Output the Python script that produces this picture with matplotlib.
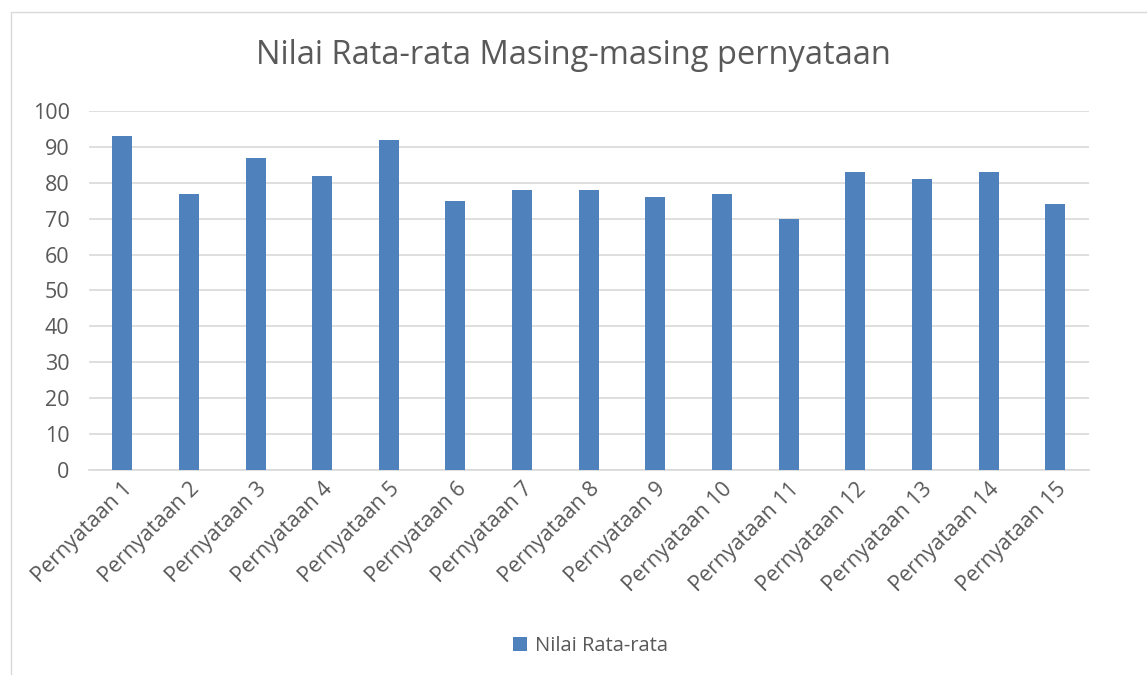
import matplotlib.pyplot as plt
import matplotlib.patches as mpatches
import numpy as np

plt.rcParams['font.family'] = ['Open Sans', 'DejaVu Sans']

kategori = ["Pernyataan %d" % i for i in range(1, 16)]
nilai = [93, 77, 87, 82, 92, 75, 78, 78, 76, 77, 70, 83, 81, 83, 74]
judul = "Nilai Rata-rata Masing-masing pernyataan"
nama_seri = "Nilai Rata-rata"

warna_bar = "#4f81bd"
warna_teks = "#595959"

fig = plt.figure(figsize=(11.47, 6.75), dpi=100)
ax = fig.add_axes([0.0776, 0.3037, 0.8714, 0.5319])

# bingkai chart
fig.patches.append(mpatches.Rectangle((11 / 1147, -0.01), 1.2, (675 - 12) / 675 + 0.01,
                                      transform=fig.transFigure, fill=False,
                                      edgecolor="#d9d9d9", linewidth=1))

x = np.arange(len(kategori))
ax.bar(x, nilai, width=0.3, color=warna_bar, zorder=3, label=nama_seri)

ax.set_xlim(-0.5, len(kategori) - 0.5)
ax.set_ylim(0, 100)
ax.set_yticks(range(0, 101, 10))
ax.grid(axis='y', color="#d9d9d9", linewidth=1.2, zorder=0)
ax.set_xticks(x)
ax.set_xticklabels(kategori, rotation=45, ha='right', rotation_mode='anchor')
ax.tick_params(axis='x', length=0, labelsize=15.5, colors=warna_teks, pad=6)
ax.tick_params(axis='y', length=0, labelsize=15.5, colors=warna_teks, pad=14)
for s in ['top', 'right', 'left']:
    ax.spines[s].set_visible(False)
ax.spines['bottom'].set_color("#d9d9d9")
ax.spines['bottom'].set_linewidth(1.2)

fig.text(0.5, 0.918, judul, ha='center', va='center', fontsize=23.5, color=warna_teks)

fig.legend(loc='center', bbox_to_anchor=(0.515, 0.043), frameon=False, fontsize=14.5,
           labelcolor=warna_teks, handlelength=0.7, handleheight=0.7, handletextpad=0.4)

fig.savefig("out.png", dpi=100)
